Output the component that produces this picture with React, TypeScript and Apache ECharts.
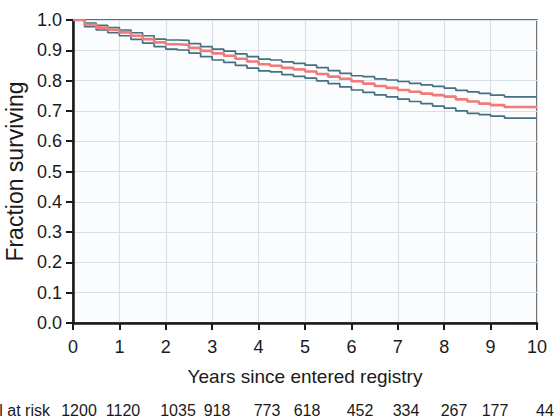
import React, { useEffect, useRef } from "react";
import * as echarts from "echarts";

const years = [0, 0.25, 0.5, 0.75, 1, 1.25, 1.5, 1.75, 2, 2.25, 2.5, 2.75, 3, 3.25, 3.5, 3.75, 4, 4.25, 4.5, 4.75, 5, 5.25, 5.5, 5.75, 6, 6.25, 6.5, 6.75, 7, 7.25, 7.5, 7.75, 8, 8.25, 8.5, 8.75, 9, 9.3, 10];
const survival = [1.0, 0.985, 0.975, 0.967, 0.959, 0.948, 0.937, 0.926, 0.92, 0.918, 0.908, 0.898, 0.89, 0.882, 0.872, 0.863, 0.854, 0.849, 0.842, 0.837, 0.83, 0.822, 0.813, 0.806, 0.798, 0.79, 0.782, 0.776, 0.769, 0.763, 0.757, 0.752, 0.747, 0.738, 0.731, 0.724, 0.719, 0.713, 0.713];
const upperCI = [1.0, 0.99, 0.982, 0.975, 0.967, 0.958, 0.948, 0.937, 0.934, 0.933, 0.922, 0.912, 0.904, 0.897, 0.888, 0.879, 0.871, 0.868, 0.862, 0.857, 0.851, 0.843, 0.833, 0.824, 0.816, 0.813, 0.806, 0.802, 0.797, 0.791, 0.786, 0.781, 0.775, 0.768, 0.763, 0.758, 0.752, 0.746, 0.746];
const lowerCI = [1.0, 0.978, 0.967, 0.958, 0.948, 0.936, 0.924, 0.912, 0.904, 0.901, 0.891, 0.879, 0.868, 0.86, 0.85, 0.841, 0.832, 0.829, 0.82, 0.814, 0.808, 0.799, 0.79, 0.779, 0.769, 0.761, 0.753, 0.746, 0.739, 0.731, 0.724, 0.716, 0.709, 0.7, 0.692, 0.688, 0.683, 0.676, 0.676];

const riskLabel = "Total at risk";
const riskCounts = ["1200", "1120", "1035", "918", "773", "618", "452", "334", "267", "177", "44"];
const riskX = [79, 123, 178, 217, 267, 307, 360, 406, 454, 495, 545];

const FONT = "'Liberation Sans', Arial, Helvetica, sans-serif";

export default function App() {
  const ref = useRef<HTMLDivElement>(null);
  useEffect(() => {
    if (!ref.current) return;
    const chart = echarts.init(ref.current, null, { renderer: "svg" });
    const pts = (arr: number[]) => years.map((y, i) => [y, arr[i]]);
    const lineColor = "#45707f";
    const option = {
      animation: false,
      backgroundColor: "#ffffff",
      textStyle: { fontFamily: FONT },
      grid: {
        left: 73,
        right: 18,
        top: 20,
        bottom: 97,
        containLabel: false,
        outerBoundsMode: "none",
        show: true,
        backgroundColor: "#fbfcfe",
        borderColor: "#3a3a3a",
        borderWidth: 1.5,
      },
      xAxis: {
        type: "value",
        min: 0,
        max: 10,
        interval: 1,
        name: "Years since entered registry",
        nameLocation: "middle",
        nameGap: 44,
        nameTextStyle: { fontSize: 19, color: "#1a1a1a", fontFamily: FONT },
        axisLine: { show: true, lineStyle: { color: "#1a1a1a", width: 2.5 } },
        axisTick: { show: true, inside: false, length: 7, lineStyle: { color: "#1a1a1a", width: 2 } },
        axisLabel: { fontSize: 18, color: "#1a1a1a", margin: 15, fontFamily: FONT },
        splitLine: { show: true, lineStyle: { color: "#d5e0e9", width: 1.2 } },
      },
      yAxis: {
        type: "value",
        min: 0,
        max: 1,
        interval: 0.1,
        name: "Fraction surviving",
        nameLocation: "middle",
        nameGap: 46,
        nameTextStyle: { fontSize: 23, color: "#1a1a1a", fontFamily: FONT },
        axisLine: { show: true, lineStyle: { color: "#1a1a1a", width: 2.5 } },
        axisTick: { show: true, inside: false, length: 7, lineStyle: { color: "#1a1a1a", width: 2 } },
        axisLabel: {
          fontSize: 18,
          color: "#1a1a1a",
          margin: 11,
          fontFamily: FONT,
          formatter: (v: number) => v.toFixed(1),
        },
        splitLine: { show: true, lineStyle: { color: "#d5e0e9", width: 1.2 } },
      },
      series: [
        {
          type: "line",
          step: "end",
          data: pts(upperCI),
          symbol: "none",
          lineStyle: { color: lineColor, width: 1.7 },
          z: 3,
        },
        {
          type: "line",
          step: "end",
          data: pts(lowerCI),
          symbol: "none",
          lineStyle: { color: lineColor, width: 1.7 },
          z: 3,
        },
        {
          type: "line",
          step: "end",
          data: pts(survival),
          symbol: "none",
          lineStyle: { color: "#f07b7b", width: 2.6 },
          z: 4,
        },
      ],
      graphic: [
        {
          type: "text",
          x: 50,
          y: 410,
          style: {
            text: riskLabel,
            fontSize: 16,
            fontFamily: FONT,
            fill: "#1a1a1a",
            align: "right",
            verticalAlign: "middle",
          },
        },
        ...riskCounts.map((c, i) => ({
          type: "text",
          x: riskX[i],
          y: 410,
          style: {
            text: c,
            fontSize: 16,
            fontFamily: FONT,
            fill: "#1a1a1a",
            align: "center",
            verticalAlign: "middle",
          },
        })),
      ],
    };
    chart.setOption(option as any);
    return () => chart.dispose();
  }, []);
  return <div ref={ref} style={{ width: 555, height: 420, position: "absolute", left: 0, top: 0 }} />;
}
